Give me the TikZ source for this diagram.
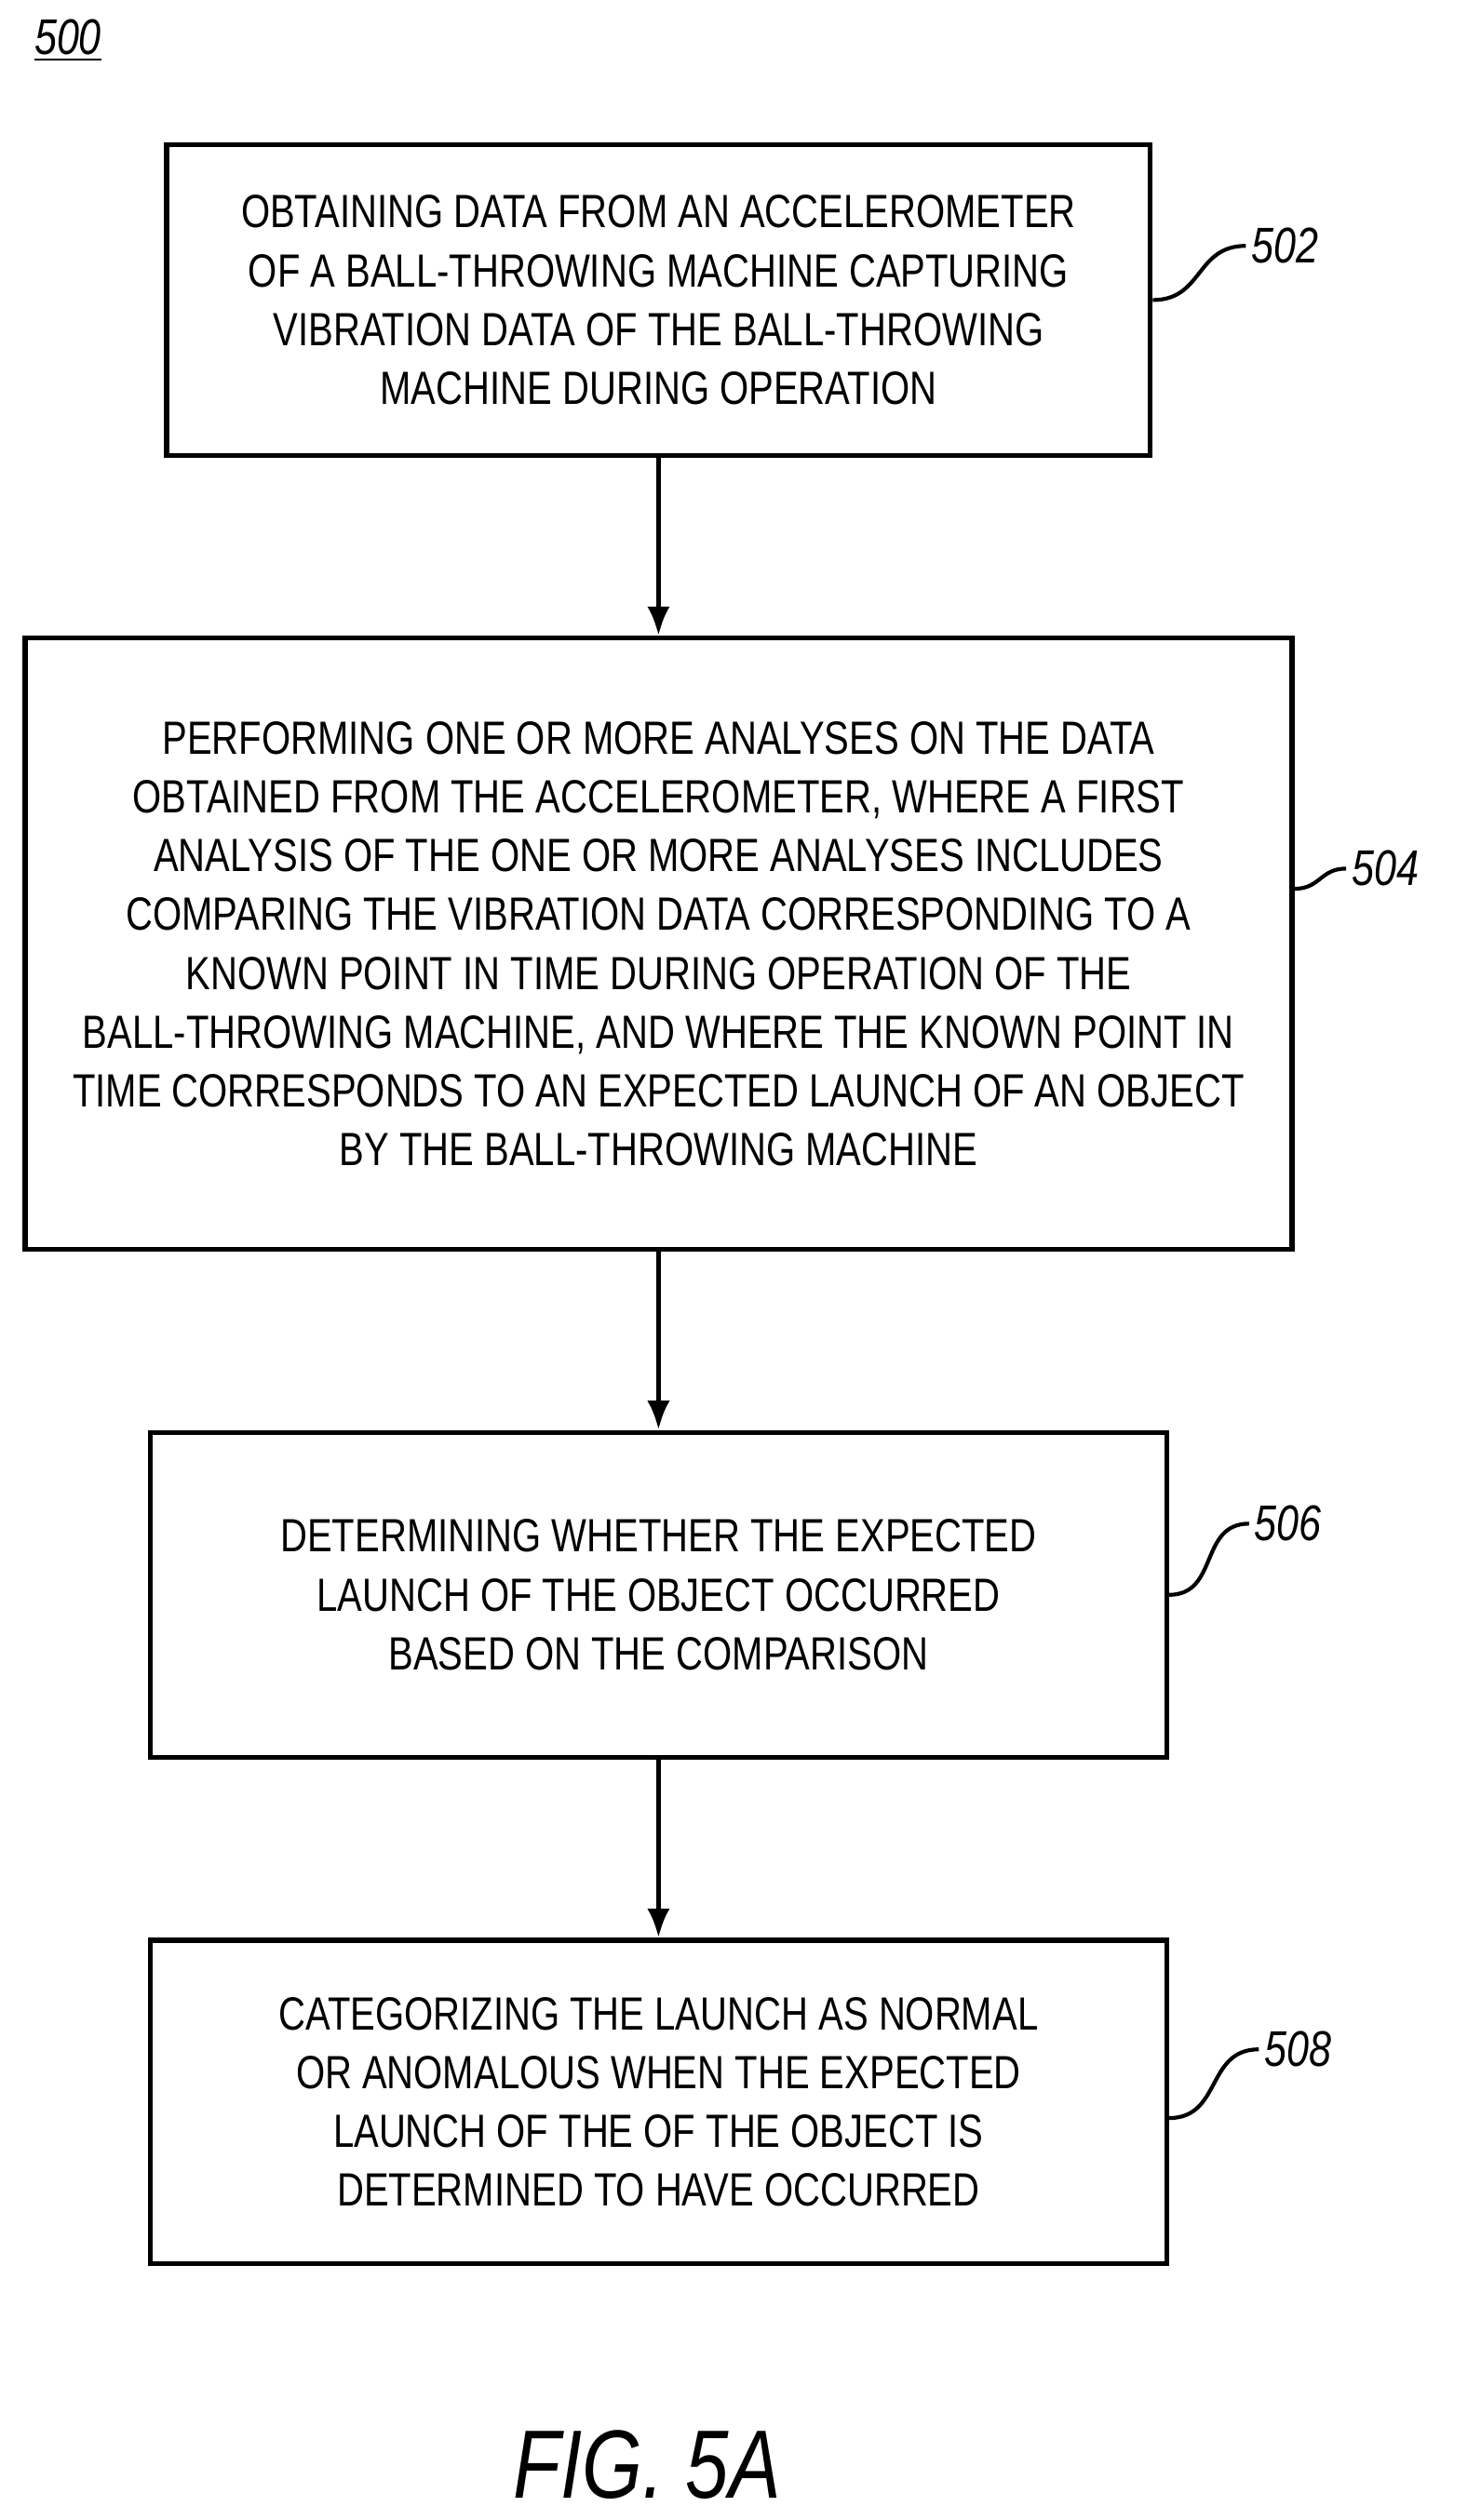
\documentclass[tikz,border=0pt]{standalone}
\usepackage{fontspec}
\setmainfont{Liberation Sans}[FakeStretch=0.8]
\usetikzlibrary{positioning,arrows.meta}

\begin{document}
\begin{tikzpicture}[
  line width=1.5pt, node distance=55pt,
  stage/.style={
    draw, align=center, shape=rectangle, inner sep=0pt,
    font=\fontsize{14.4}{18.2}\selectfont
  },
  ref/.style={font=\fontsize{15.5}{17}\selectfont\itshape, inner sep=1pt},
  flow/.style={-{Latex[length=9pt,width=7pt]}}
]

  \useasboundingbox (0,0) rectangle (457.5pt,-779pt);

  \node[stage, minimum width=304pt, minimum height=96pt, anchor=north] (stage-502) at (203.5pt,-44pt)
    {OBTAINING DATA FROM AN ACCELEROMETER\\ OF A BALL-THROWING MACHINE CAPTURING\\
     VIBRATION DATA OF THE BALL-THROWING\\ MACHINE DURING OPERATION};
  \node[stage, minimum width=391.5pt, minimum height=189pt, below=of stage-502] (stage-504)
    {PERFORMING ONE OR MORE ANALYSES ON THE DATA\\ OBTAINED FROM THE ACCELEROMETER, WHERE A FIRST\\
     ANALYSIS OF THE ONE OR MORE ANALYSES INCLUDES\\ COMPARING THE VIBRATION DATA CORRESPONDING TO A\\
     KNOWN POINT IN TIME DURING OPERATION OF THE\\ BALL-THROWING MACHINE, AND WHERE THE KNOWN POINT IN\\
     TIME CORRESPONDS TO AN EXPECTED LAUNCH OF AN OBJECT\\ BY THE BALL-THROWING MACHINE};
  \node[stage, minimum width=314pt, minimum height=100.5pt, below=of stage-504] (stage-506)
    {DETERMINING WHETHER THE EXPECTED\\ LAUNCH OF THE OBJECT OCCURRED\\ BASED ON THE COMPARISON};
  \node[stage, minimum width=314pt, minimum height=100pt, below=of stage-506] (stage-508)
    {CATEGORIZING THE LAUNCH AS NORMAL\\ OR ANOMALOUS WHEN THE EXPECTED\\
     LAUNCH OF THE OF THE OBJECT IS\\ DETERMINED TO HAVE OCCURRED};

  \draw[flow] (stage-502) -- (stage-504);
  \draw[flow] (stage-504) -- (stage-506);
  \draw[flow] (stage-506) -- (stage-508);

  % reference numerals
  \node[ref, anchor=west] (ref-502) at (385pt,-76pt) {502};
  \node[ref, anchor=west] (ref-504) at (416pt,-268.5pt) {504};
  \node[ref, anchor=west] (ref-506) at (386pt,-471pt) {506};
  \node[ref, anchor=west] (ref-508) at (389pt,-633.5pt) {508};

  \draw[line width=1.2pt] (stage-502.east) to[out=0,in=180,looseness=1.2] (ref-502.west);
  \draw[line width=1.2pt] ([yshift=17pt]stage-504.east) to[out=0,in=180,looseness=1.2] (ref-504.west);
  \draw[line width=1.2pt] (stage-506.east) to[out=0,in=180,looseness=1.2] (ref-506.west);
  \draw[line width=1.2pt] ([yshift=-5pt]stage-508.east) to[out=0,in=180,looseness=1.2] (ref-508.west);

  \node[ref] (fig-num) at (21pt,-12.5pt) {\underline{500}};
  \node[font=\fontsize{30}{34}\selectfont\itshape] (fig-title) at (200pt,-762pt) {FIG. 5A};

\end{tikzpicture}
\end{document}
